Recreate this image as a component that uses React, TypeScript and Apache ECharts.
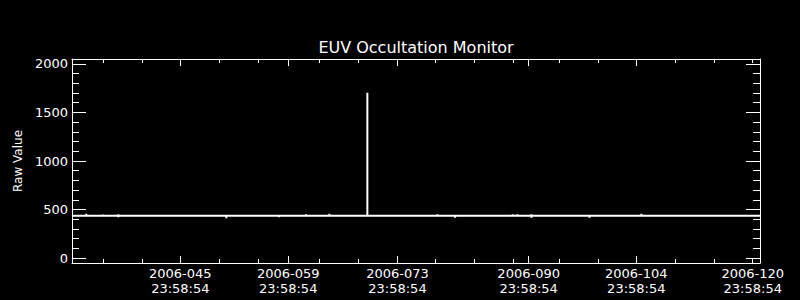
import React, { useEffect, useRef } from "react";
import * as echarts from "echarts";

const chartTitle = "EUV Occultation Monitor";
const yAxisTitle = "Raw Value";

// time in day-of-year 2006 (fractional), raw counts
const dayOfYear = [
  32.0,
  33.85, 33.85, 33.85,
  36.05, 36.05, 36.05,
  38.0, 38.0, 38.0, 38.0,
  44.69, 44.69, 44.69,
  51.99, 51.99, 51.99,
  58.81, 58.81, 58.81,
  62.31, 62.31, 62.31,
  65.33, 65.33, 65.33,
  67.79, 67.79, 67.79,
  70.25, 70.25, 70.25,
  79.32, 79.32, 79.32,
  81.61, 81.61, 81.61,
  89.09, 89.09, 89.09,
  89.68, 89.68, 89.68,
  91.5, 91.5, 91.5, 91.5,
  92.66, 92.66, 92.66,
  99.01, 99.01, 99.01,
  105.74, 105.74, 105.74,
  120.6, 120.6, 120.6,
  121.1,
];
const rawValue = [
  437,
  437, 457, 437,
  437, 450, 437,
  437, 452, 420, 437,
  437, 425, 437,
  437, 410, 437,
  437, 420, 437,
  437, 452, 437,
  437, 457, 437,
  437, 425, 437,
  437, 1703, 437,
  437, 452, 437,
  437, 415, 437,
  437, 452, 437,
  437, 452, 437,
  437, 452, 415, 437,
  437, 425, 437,
  437, 415, 437,
  437, 457, 437,
  437, 427, 437,
  437,
];

const xRange = [32, 121.1];
const yRange = [-50, 2050];
const xMajorTicks = [46.03, 60.0, 74.15, 91.14, 105.08];
const xLabelTicks = [46.03, 60.0, 74.15, 91.14, 105.08, 120.16];
const xTickLabels = [
  "2006-045\n23:58:54",
  "2006-059\n23:58:54",
  "2006-073\n23:58:54",
  "2006-090\n23:58:54",
  "2006-104\n23:58:54",
  "2006-120\n23:58:54",
];
const xMinorTicks = [
  36.03, 41.09, 51.06, 56.11, 64.01, 69.07, 79.04, 84.09, 89.14, 95.1,
  100.15, 110.09, 115.18, 120.16,
];
const yMajorTicks = [0, 500, 1000, 1500, 2000];
const yMinorTicks = [
  100, 200, 300, 400, 600, 700, 800, 900, 1100, 1200, 1300, 1400, 1600, 1700,
  1800, 1900,
];

const FONT = "DejaVu Sans";
const WHITE = "#ffffff";

function xAxisCfg(
  gridIndex: number,
  position: string,
  ticks: number[],
  len: number,
  withLabels: boolean,
  showLine: boolean
) {
  return {
    type: "value",
    gridIndex,
    position,
    min: xRange[0],
    max: xRange[1],
    axisLine: { show: showLine, onZero: false, lineStyle: { color: WHITE, width: 1 } },
    axisTick: {
      show: true,
      inside: true,
      length: len,
      customValues: ticks,
      lineStyle: { color: WHITE, width: 1 },
    },
    axisLabel: withLabels
      ? {
          show: true,
          customValues: xLabelTicks,
          formatter: (v: number) => {
            const i = xLabelTicks.findIndex((t) => Math.abs(t - v) < 1e-6);
            return i >= 0 ? xTickLabels[i] : "";
          },
          color: WHITE,
          fontFamily: FONT,
          fontSize: 13,
          lineHeight: 15,
          margin: 3,
        }
      : { show: false },
    splitLine: { show: false },
    minorTick: { show: false },
  };
}

function yAxisCfg(
  gridIndex: number,
  position: string,
  ticks: number[],
  len: number,
  withLabels: boolean,
  showLine: boolean
) {
  return {
    type: "value",
    gridIndex,
    position,
    min: yRange[0],
    max: yRange[1],
    axisLine: { show: showLine, onZero: false, lineStyle: { color: WHITE, width: 1 } },
    axisTick: {
      show: true,
      inside: true,
      length: len,
      customValues: ticks,
      lineStyle: { color: WHITE, width: 1 },
    },
    axisLabel: withLabels
      ? {
          show: true,
          customValues: yMajorTicks,
          formatter: (v: number) => String(Math.round(v)),
          color: WHITE,
          fontFamily: FONT,
          fontSize: 13,
          margin: 4,
        }
      : { show: false },
    name: withLabels ? yAxisTitle : "",
    nameLocation: "middle",
    nameGap: 44,
    nameTextStyle: { color: WHITE, fontFamily: FONT, fontSize: 12 },
    splitLine: { show: false },
    minorTick: { show: false },
  };
}

export default function App() {
  const ref = useRef<HTMLDivElement>(null);
  useEffect(() => {
    document.body.style.margin = "0";
    document.body.style.background = "#000";
    if (!ref.current) return;
    const chart = echarts.init(ref.current, undefined, { renderer: "svg" });
    const gridRect = { left: 72, top: 59, right: 40, bottom: 37 };
    const seriesData = dayOfYear.map((d, i) => [d, rawValue[i]]);
    chart.setOption({
      animation: false,
      backgroundColor: "#000000",
      graphic: [
        {
          type: "text",
          x: 416,
          y: 47,
          style: {
            text: chartTitle,
            fill: WHITE,
            font: `16px "${FONT}"`,
            textAlign: "center",
            textVerticalAlign: "middle",
          },
        },
      ],
      grid: [
        { ...gridRect, containLabel: false },
        { ...gridRect, containLabel: false },
      ],
      xAxis: [
        xAxisCfg(0, "bottom", xMajorTicks, 7, true, true),
        xAxisCfg(0, "top", xMajorTicks, 7, false, true),
        xAxisCfg(1, "bottom", xMinorTicks, 4, false, false),
        xAxisCfg(1, "top", xMinorTicks, 4, false, false),
      ],
      yAxis: [
        yAxisCfg(0, "left", yMajorTicks, 14, true, true),
        yAxisCfg(0, "right", yMajorTicks, 14, false, true),
        yAxisCfg(1, "left", yMinorTicks, 7, false, false),
        yAxisCfg(1, "right", yMinorTicks, 7, false, false),
      ],
      series: [
        {
          type: "line",
          xAxisIndex: 0,
          yAxisIndex: 0,
          data: seriesData,
          showSymbol: false,
          symbol: "none",
          lineStyle: { color: WHITE, width: 2, join: "bevel" },
          clip: true,
        },
        {
          type: "line",
          xAxisIndex: 2,
          yAxisIndex: 2,
          data: [],
          showSymbol: false,
        },
      ],
    });
    return () => chart.dispose();
  }, []);
  return <div ref={ref} style={{ width: 800, height: 300 }} />;
}
